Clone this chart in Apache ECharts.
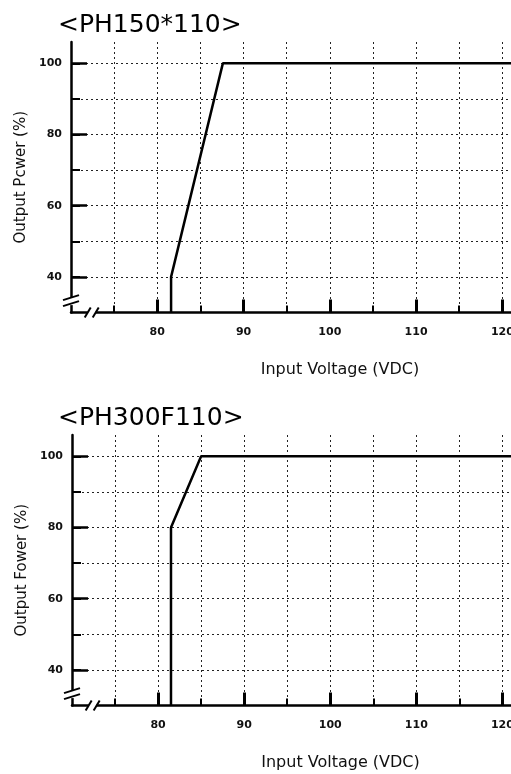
<!DOCTYPE html>
<html>
<head>
<meta charset="utf-8">
<script src="https://cdn.jsdelivr.net/npm/echarts@6/dist/echarts.min.js"></script>
<style>html,body{margin:0;padding:0;background:#fff}#c{width:511px;height:774px}</style>
</head>
<body>
<div id="c"></div>
<script>
const titles = ['<PH150*110>', '<PH300F110>'];
const yNames = ['Output Pcwer (%)', 'Output Fower (%)'];
const xName = 'Input Voltage (VDC)';
const xTickValues = [75, 80, 85, 90, 95, 100, 105, 110, 115, 120];
const xMajorValues = [80, 90, 100, 110, 120];
const yTickValues = [40, 50, 60, 70, 80, 90, 100];
const yMajorValues = [40, 60, 80, 100];
const topVoltage = [81.6, 81.6, 87.6, 121];
const topPower = [30, 40, 100, 100];
const botVoltage = [81.5, 81.5, 85, 121];
const botPower = [30, 80, 100, 100];

const FONT = 'DejaVu Sans';
const chart = echarts.init(document.getElementById('c'));
const grids = [
  {left: 71, top: 42, right: 0, bottom: 461.5, outerBoundsMode: 'none', containLabel: false},
  {left: 72, top: 435, right: 0, bottom: 68.5, outerBoundsMode: 'none', containLabel: false}
];
const dotted = {color: '#222', width: 1, type: [2, 3]};

function xAxes(g) {
  return [{
    gridIndex: g, type: 'value', min: 70, max: 121, position: 'bottom',
    name: xName, nameLocation: 'middle', nameGap: 49,
    nameTextStyle: {fontFamily: FONT, fontSize: 16, color: '#111', padding: [0, 0, 0, 98]},
    axisLine: {show: true, lineStyle: {color: '#000', width: 2.5}},
    axisTick: {inside: true, length: 7, lineStyle: {color: '#000', width: 2}, customValues: xTickValues},
    axisLabel: {customValues: xMajorValues, margin: 14, fontFamily: FONT, fontSize: 11, fontWeight: 'bold', color: '#111', hideOverlap: false},
    splitLine: {show: true, lineStyle: dotted}
  }, {
    gridIndex: g, type: 'value', min: 70, max: 121, position: 'bottom',
    axisLine: {show: false},
    axisTick: {inside: true, length: 13, lineStyle: {color: '#000', width: 3}, customValues: xMajorValues},
    axisLabel: {show: false},
    splitLine: {show: false}
  }];
}
function yAxes(g) {
  return [{
    gridIndex: g, type: 'value', min: 30, max: 106, position: 'left',
    name: yNames[g], nameLocation: 'middle', nameGap: 42,
    nameTextStyle: {fontFamily: FONT, fontSize: 15, color: '#111'},
    axisLine: {show: true, lineStyle: {color: '#000', width: 2.5}},
    axisTick: {inside: true, length: 9, lineStyle: {color: '#000', width: 2}, customValues: yTickValues},
    axisLabel: {customValues: yMajorValues, margin: 9, fontFamily: FONT, fontSize: 11, fontWeight: 'bold', color: '#111'},
    splitLine: {show: true, lineStyle: dotted}
  }, {
    gridIndex: g, type: 'value', min: 30, max: 106, position: 'left',
    axisLine: {show: false},
    axisTick: {inside: true, length: 16, lineStyle: {color: '#000', width: 2.5}, customValues: yMajorValues},
    axisLabel: {show: false},
    splitLine: {show: false}
  }];
}

const option = {
  animation: false,
  backgroundColor: '#fff',
  title: [
    {text: titles[0], left: 53, top: 8, textStyle: {fontFamily: FONT, fontSize: 25, fontWeight: 'normal', color: '#000'}},
    {text: titles[1], left: 53, top: 401, textStyle: {fontFamily: FONT, fontSize: 25, fontWeight: 'normal', color: '#000'}}
  ],
  grid: grids,
  xAxis: [...xAxes(0), ...xAxes(1)],
  yAxis: [...yAxes(0), ...yAxes(1)],
  series: [
    {type: 'line', xAxisIndex: 0, yAxisIndex: 0, symbol: 'none', z: 5,
     lineStyle: {color: '#000', width: 2.5},
     data: topVoltage.map((v, i) => [v, topPower[i]])},
    {type: 'line', xAxisIndex: 2, yAxisIndex: 2, symbol: 'none', z: 5,
     lineStyle: {color: '#000', width: 2.5},
     data: botVoltage.map((v, i) => [v, botPower[i]])}
  ]
};
chart.setOption(option);

// axis break marks near the origin of each plot
const gfx = [];
[0, 1].forEach(g => {
  const o = chart.convertToPixel({xAxisIndex: g * 2, yAxisIndex: g * 2}, [70, 30]);
  const yb = chart.convertToPixel({xAxisIndex: g * 2, yAxisIndex: g * 2}, [70, 33.2]);
  const xb = chart.convertToPixel({xAxisIndex: g * 2, yAxisIndex: g * 2}, [72.4, 30]);
  const ox = o[0], oy = o[1], py = yb[1], px = xb[0];
  const ls = {stroke: '#000', lineWidth: 2};
  gfx.push({type: 'rect', z: 100, shape: {x: ox - 4, y: py - 4, width: 8, height: 8}, style: {fill: '#fff'}});
  gfx.push({type: 'line', z: 101, shape: {x1: ox - 8, y1: py - 1, x2: ox + 8, y2: py - 6}, style: ls});
  gfx.push({type: 'line', z: 101, shape: {x1: ox - 8, y1: py + 5, x2: ox + 8, y2: py}, style: ls});
  gfx.push({type: 'rect', z: 100, shape: {x: px - 4, y: oy - 4, width: 8, height: 8}, style: {fill: '#fff'}});
  gfx.push({type: 'line', z: 101, shape: {x1: px - 7, y1: oy + 5, x2: px - 1, y2: oy - 5}, style: ls});
  gfx.push({type: 'line', z: 101, shape: {x1: px + 1, y1: oy + 5, x2: px + 7, y2: oy - 5}, style: ls});
});
chart.setOption({graphic: gfx});
</script>
</body>
</html>
